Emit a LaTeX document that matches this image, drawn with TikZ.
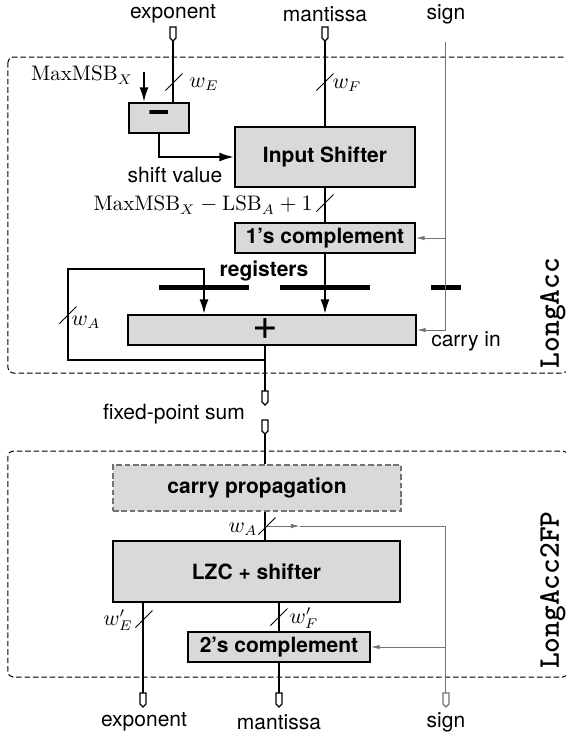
\documentclass[tikz,border=0pt]{standalone}
\usepackage{fontspec}
\setsansfont{TeX Gyre Heros}
\usetikzlibrary{arrows.meta}

\definecolor{boxgray}{gray}{0.85}
\definecolor{wiregray}{gray}{0.45}
\newcommand{\boxfont}{\fontsize{10.5}{12}\selectfont\sffamily\bfseries}
\newcommand{\symfont}{\fontsize{20}{20}\selectfont\sffamily\bfseries}

\tikzset{
	txt/.style={font=\fontsize{10.5}{12}\selectfont\sffamily, inner sep=1pt},
	blk/.style={draw, fill=boxgray, line width=0.65pt, inner sep=0pt, font=\boxfont},
	mono/.style={font=\fontsize{15}{16}\selectfont\ttfamily\bfseries, rotate=90},
	bus/.style={line width=1.25pt},
	busarr/.style={bus, -{Latex[length=7.5pt,width=4.5pt]}},
	ctrl/.style={line width=0.5pt, draw=wiregray},
	ctrlarr/.style={ctrl, -{Latex[length=4.5pt,width=2.2pt]}},
	regbar/.style={fill=black, minimum height=2.5pt, inner sep=0pt},
	region/.style={dash pattern=on 2.8pt off 1.4pt, rounded corners=2.5pt, line width=0.5pt},
	wslash/.pic={\draw[line width=0.5pt] (-8.5,8.5) -- (8.5,-8.5);},
	wpin/.pic={
		\draw[fill=white, line width=0.6pt] (-3,-7) -- (3,-7) -- (3,4) -- (0,7) -- (-3,4) -- cycle;
		\coordinate (-top) at (0,-7);
		\coordinate (-tip) at (0,7);
	}
}

\begin{document}
\begin{tikzpicture}[x=0.5pt, y=-0.5pt]
\useasboundingbox (0,0) rectangle (566,736);

% Regions
\draw[region] (8,57) rectangle (568,373);
\draw[region] (8,451) rectangle (568,677);
\node[mono] (nacc) at (553,313) {LongAcc};
\node[mono] (nfp) at (553,590) {LongAcc2FP};

% Inputs
\node[txt] (lexp) at (173,14) {exponent};
\node[txt] (lman) at (325,14) {mantissa};
\node[txt] (lsgn) at (446,14) {sign};
\pic (pexp) at (173,34) {wpin};
\pic (pman) at (325,34) {wpin};
\coordinate (sgntop) at (446,42);

% LongAcc
\node[blk, minimum width=30pt, minimum height=15pt] (subtr) at (159,118) {};
\node[font=\symfont] (minus) at (159,116) {−};
\node[blk, minimum width=90pt, minimum height=30pt] (shift) at (325,157) {Input Shifter};
\node[blk, minimum width=90pt, minimum height=15pt] (ones) at (325,238) {1’s complement};
\node[blk, minimum width=144pt, minimum height=15pt] (add) at (272,330) {};
\node[font=\fontsize{22}{22}\selectfont\sffamily] (plus) at (265,329) {+};

\node[txt] (lmax) at (82,75) {$\mathrm{MaxMSB}_X$};
\coordinate (maxin) at (144,72);
\draw[busarr] (maxin) -- (maxin |- subtr.north);

\draw[bus] (pexp-tip) -- (pexp-tip |- subtr.north);
\draw[bus] (pman-tip) -- (shift.north);
\draw[busarr] (subtr.south) |- (shift.west);
\node[txt] (lshv) at (175,175) {shift value};
\draw[bus] (shift.south) -- (ones.north);
\node[txt, anchor=east] (lwid) at (315,205) {$\mathrm{MaxMSB}_X-\mathrm{LSB}_A+1$};

% registers
\node[txt, font=\boxfont] (lreg) at (264,271) {registers};
\node[regbar, minimum width=45pt] (r1) at (204,287) {};
\node[regbar, minimum width=45pt] (r2) at (325,287) {};
\node[regbar, minimum width=15pt] (r3) at (446,287) {};

\draw[busarr] (ones.south) -- (ones.south |- add.north);
\coordinate (fb) at (265,360);
\coordinate (fbl) at (68,269);
\draw[bus] (plus.center |- add.south) -- (fb);
\draw[busarr] (fb) -| (fbl) -| (add.north -| r1.center);
\node[txt] (lwa) at (86,322) {$w_A$};

\draw[ctrlarr] (sgntop) |- (add.east);
\draw[ctrlarr] (ones.east -| sgntop) -- (ones.east);
\node[txt] (lcin) at (466,341) {carry in};

% fixed-point sum
\pic (psum1) at (265,398) {wpin};
\pic (psum2) at (265,427) {wpin};
\draw[bus] (fb) -- (psum1-top);
\node[txt] (lsum) at (174,414) {fixed-point sum};

% LongAcc2FP
\node[blk, dash pattern=on 2.8pt off 1.4pt, draw=wiregray, minimum width=144pt, minimum height=23pt] (carry) at (257,488) {carry propagation};
\node[blk, minimum width=143.5pt, minimum height=30.5pt] (lzc) at (256.5,571.5) {LZC + shifter};
\node[blk, minimum width=91pt, minimum height=15pt] (twos) at (279,647) {2’s complement};

\draw[bus] (psum2-tip) -- (carry.north -| psum2-tip);
\coordinate (br) at (265,526);
\coordinate (brmid) at (300,526);
\draw[bus] (carry.south -| br) -- (lzc.north -| br);
\node[txt] (lwa2) at (243,529) {$w_A$};

% Outputs
\pic (qexp) at (143,700) {wpin};
\pic (qman) at (279,700) {wpin};
\pic[draw=wiregray] (qsgn) at (446,700) {wpin};
\node[txt] (oexp) at (144,722) {exponent};
\node[txt] (oman) at (279,722) {mantissa};
\node[txt] (osgn) at (446,722) {sign};

\draw[bus] (lzc.south -| qexp-top) -- (qexp-top);
\draw[bus] (lzc.south -| twos.north) -- (twos.north);
\draw[bus] (twos.south) -- (qman-top);
\node[txt] (lwe2) at (118,620) {$w'_E$};
\node[txt] (lwf2) at (304,618) {$w'_F$};

\draw[ctrlarr] (br) -- (brmid);
\draw[ctrl] (brmid) -| (qsgn-top);
\draw[ctrlarr] (twos.east -| qsgn-top) -- (twos.east);

% bus widths
\foreach \p in {(174,82),(325,82),(325,203),(68,315),(267,526),(144,619),(279,617)} {
	\pic at \p {wslash};
}
\node[txt] (lwe) at (204,84) {$w_E$};
\node[txt] (lwf) at (347,85) {$w_F$};

\end{tikzpicture}
\end{document}
